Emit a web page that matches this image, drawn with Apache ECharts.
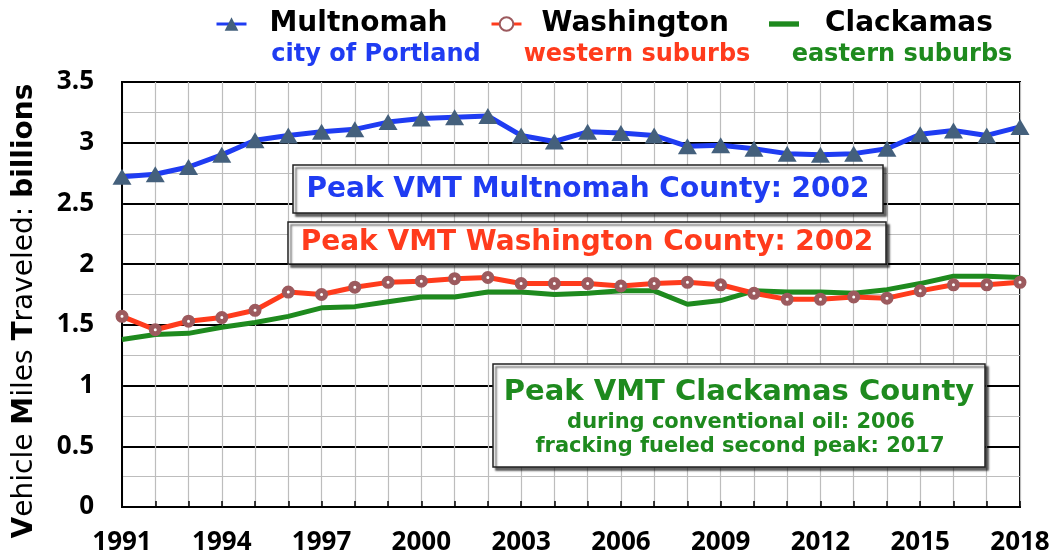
<!DOCTYPE html>
<html>
<head>
<meta charset="utf-8">
<script src="https://cdn.jsdelivr.net/npm/echarts@6/dist/echarts.min.js"></script>
<style>
html,body{margin:0;padding:0;background:#fff;}
#chart{width:1053px;height:556px;}
</style>
</head>
<body>
<div id="chart"></div>
<script>
var years = ['1991','1992','1993','1994','1995','1996','1997','1998','1999','2000','2001','2002','2003','2004','2005','2006','2007','2008','2009','2010','2011','2012','2013','2014','2015','2016','2017','2018'];
var multnomah = [2.72,2.74,2.80,2.90,3.02,3.06,3.09,3.11,3.17,3.20,3.21,3.22,3.06,3.01,3.09,3.08,3.06,2.97,2.98,2.95,2.91,2.90,2.91,2.95,3.07,3.10,3.06,3.13];
var washington = [1.57,1.46,1.53,1.56,1.62,1.77,1.75,1.81,1.85,1.86,1.88,1.89,1.84,1.84,1.84,1.82,1.84,1.85,1.83,1.76,1.71,1.71,1.73,1.72,1.78,1.83,1.83,1.85];
var clackamas = [1.38,1.42,1.43,1.48,1.52,1.57,1.64,1.65,1.69,1.73,1.73,1.77,1.77,1.75,1.76,1.78,1.78,1.67,1.70,1.78,1.77,1.77,1.76,1.79,1.84,1.90,1.90,1.89];
var seriesNames = ['Multnomah','Washington','Clackamas'];
var subtitles = ['city of Portland','western suburbs','eastern suburbs'];
var yTicks = {min:0, max:3.5, interval:0.5};

var SANS = "'Open Sans','DejaVu Sans',sans-serif";
var WIDE = "'DejaVu Sans','Verdana',sans-serif";
var BLUE = '#1f3cf2', RED = '#ff3b1c', GREEN = '#1e8a1e';

function legendAt(left, name, pad, extra){
  return {
    left:left, top:5, itemWidth:30, itemHeight:17,
    data:[Object.assign({name:name}, extra||{})],
    selectedMode:false,
    textStyle:{fontFamily:WIDE,fontWeight:'bold',fontSize:28,color:'#000',padding:[0,0,0,pad]}
  };
}

var chart = echarts.init(document.getElementById('chart'), null, {renderer:'canvas'});
var option = {
  backgroundColor:'#fff',
  animation:false,
  grid:{left:122,right:33,top:82,bottom:49,show:true,borderColor:'#000',borderWidth:2,backgroundColor:'transparent'},
  legend:[
    Object.assign(legendAt(210, seriesNames[0], 18), {lineStyle:{width:3}}),
    Object.assign(legendAt(485, seriesNames[1], 15), {lineStyle:{width:3}}),
    legendAt(764, seriesNames[2], 21, {icon:'path://M0,0H28V5H0Z'})
  ],
  xAxis:{
    type:'category', data:years, boundaryGap:false,
    axisLine:{show:true,lineStyle:{color:'#000',width:2}},
    axisTick:{show:true,inside:true,length:6,interval:0,lineStyle:{color:'#000',width:1.5}},
    axisLabel:{interval:2,fontFamily:SANS,fontWeight:'bold',fontSize:26,color:'#000',margin:23},
    splitLine:{show:true,interval:0,lineStyle:{color:'#bdbdbd',width:1.2}}
  },
  yAxis:{
    type:'value', min:yTicks.min, max:yTicks.max, interval:yTicks.interval,
    axisLine:{show:true,lineStyle:{color:'#000',width:2}},
    axisTick:{show:false},
    axisLabel:{fontFamily:SANS,fontWeight:'bold',fontSize:26,color:'#000',margin:28},
    splitLine:{show:true,lineStyle:{color:'#000',width:2}},
    minorTick:{show:false,splitNumber:2},
    minorSplitLine:{show:true,lineStyle:{color:'#bdbdbd',width:1.2}}
  },
  series:[
    {name:seriesNames[0],type:'line',data:multnomah,symbol:'triangle',symbolSize:[19,16],
     lineStyle:{color:BLUE,width:5},itemStyle:{color:'#44607c'},z:5},
    {name:seriesNames[1],type:'line',data:washington,symbol:'circle',symbolSize:8,
     lineStyle:{color:RED,width:5},itemStyle:{color:'#fff',borderColor:'#9c5a5e',borderWidth:5},z:4},
    {name:seriesNames[2],type:'line',data:clackamas,symbol:'none',
     lineStyle:{color:GREEN,width:5},itemStyle:{color:GREEN},z:3}
  ],
  graphic:[
    {type:'text',x:376,y:55,style:{text:subtitles[0],fill:BLUE,font:"bold 24px "+WIDE,textAlign:'center',textVerticalAlign:'middle'}},
    {type:'text',x:637,y:55,style:{text:subtitles[1],fill:RED,font:"bold 24px "+WIDE,textAlign:'center',textVerticalAlign:'middle'}},
    {type:'text',x:902,y:55,style:{text:subtitles[2],fill:GREEN,font:"bold 24px "+WIDE,textAlign:'center',textVerticalAlign:'middle'}},
    {type:'text',x:25,y:311,rotation:Math.PI/2,
     style:{
       text:'{b|V}{n|ehicle }{b|M}{n|iles }{b|T}{n|raveled: }{b|billions}',
       textAlign:'center',textVerticalAlign:'middle',
       rich:{
         b:{fontFamily:WIDE,fontWeight:'bold',fontSize:28,fill:'#000'},
         n:{fontFamily:WIDE,fontWeight:'normal',fontSize:28,fill:'#000'}
       }
     }},
    {type:'rect',shape:{x:293,y:165,width:590,height:48},
     style:{fill:'#fff',stroke:'#222',lineWidth:1.5,shadowColor:'rgba(0,0,0,0.6)',shadowOffsetX:3,shadowOffsetY:3,shadowBlur:2},z:10},
    {type:'text',x:588,y:190,z:11,style:{text:'Peak VMT Multnomah County: 2002',fill:BLUE,font:"bold 28px "+WIDE,textAlign:'center',textVerticalAlign:'middle'}},
    {type:'rect',shape:{x:288,y:222,width:598,height:42},
     style:{fill:'#fff',stroke:'#222',lineWidth:1.5,shadowColor:'rgba(0,0,0,0.6)',shadowOffsetX:3,shadowOffsetY:3,shadowBlur:2},z:10},
    {type:'text',x:587,y:243,z:11,style:{text:'Peak VMT Washington County: 2002',fill:RED,font:"bold 28px "+WIDE,textAlign:'center',textVerticalAlign:'middle'}},
    {type:'rect',shape:{x:493,y:364,width:492,height:103},
     style:{fill:'#fff',stroke:'#222',lineWidth:1.5,shadowColor:'rgba(0,0,0,0.6)',shadowOffsetX:3,shadowOffsetY:3,shadowBlur:2},z:10},
    {type:'text',x:739,y:392,z:11,style:{text:'Peak VMT Clackamas County',fill:GREEN,font:"bold 29px "+WIDE,textAlign:'center',textVerticalAlign:'middle'}},
    {type:'text',x:741,y:423,z:11,style:{text:'during conventional oil: 2006',fill:GREEN,font:"bold 21px "+WIDE,textAlign:'center',textVerticalAlign:'middle'}},
    {type:'text',x:740,y:447,z:11,style:{text:'fracking fueled second peak: 2017',fill:GREEN,font:"bold 21px "+WIDE,textAlign:'center',textVerticalAlign:'middle'}}
  ]
};
chart.setOption(option);
</script>
</body>
</html>
